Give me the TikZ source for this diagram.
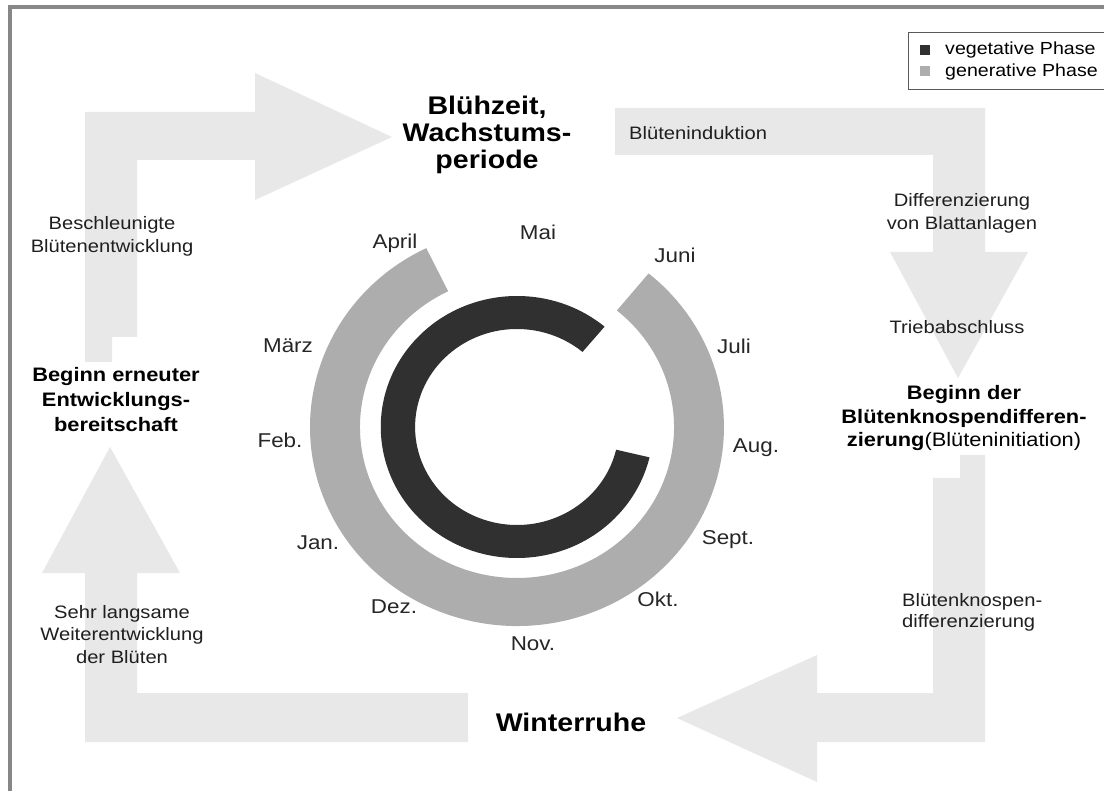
\documentclass[tikz,border=0pt]{standalone}
\usepackage{fontspec}
\setmainfont{Liberation Sans}[FakeStretch=1.12]
\definecolor{arrowgray}{HTML}{E8E8E8}
\definecolor{gengray}{HTML}{ADADAD}
\definecolor{veggray}{HTML}{303030}
\definecolor{framegray}{HTML}{878787}
\tikzset{
  bigarrow/.style={fill=arrowgray},
  smalltext/.style={font=\fontsize{18}{22.5}\selectfont, align=center, inner sep=0pt, text=black!88},
  monthtext/.style={font=\fontsize{20}{24}\selectfont, inner sep=0pt, text=black!85},
  bigtitle/.style={font=\bfseries\fontsize{25.5}{27}\selectfont, align=center, inner sep=0pt},
  midtitle/.style={font=\bfseries\fontsize{19.5}{24}\selectfont, align=center, inner sep=0pt},
  legendtext/.style={font=\fontsize{17.5}{20}\selectfont, inner sep=0pt, anchor=west},
}
\begin{document}
\begin{tikzpicture}[x=1pt,y=-1pt]
\useasboundingbox (0,0) rectangle (1104,791);
\fill[white] (0,0) rectangle (1104,791);
% frame
\draw[framegray, line width=4pt] (10,791) -- (10,7) -- (1104,7);

% legend
\draw[black!65, line width=0.8pt] (908,32) rectangle (1110,89);
\fill[veggray] (920,45) rectangle (930,55);
\fill[gengray] (920,66) rectangle (930,76);
\node[legendtext] (lveg) at (945,50) {vegetative Phase};
\node[legendtext] (lgen) at (945,72) {generative Phase};

% big arrows
\fill[bigarrow] (85,362) -- (85,112) -- (255,112) -- (255,73) -- (392,137) -- (255,200) -- (255,160) -- (137,160) -- (137,337) -- (112,337) -- (112,362) -- cycle;
\fill[bigarrow] (615,108) -- (985,108) -- (985,252) -- (1028,252) -- (958,378) -- (890,252) -- (933,252) -- (933,155) -- (615,155) -- cycle;
\fill[bigarrow] (960,455) -- (985,455) -- (985,742) -- (817,742) -- (817,782) -- (677,718) -- (817,655) -- (817,693) -- (933,693) -- (933,478) -- (960,478) -- cycle;
\fill[bigarrow] (468,693) -- (468,742) -- (85,742) -- (85,573) -- (42,573) -- (110,447) -- (180,573) -- (137,573) -- (137,693) -- cycle;

% rings
\begin{scope}[shift={(517,427)}, x=1.04pt, y=1pt]
  \fill[gengray] (116:199) arc[start angle=116, end angle=410.5, radius=199]
     -- (410.5:151) arc[start angle=410.5, end angle=116, radius=151] -- cycle;
  \fill[veggray] (50:131) arc[start angle=50, end angle=346.6, radius=131]
     -- (346.6:98) arc[start angle=346.6, end angle=50, radius=98] -- cycle;
\end{scope}

% months
\node[monthtext] (mai) at (538,232) {Mai};
\node[monthtext] (apr) at (395,243) {April};
\node[monthtext] (jun) at (675,255) {Juni};
\node[monthtext] (mar) at (288,346) {März};
\node[monthtext] (jul) at (734,346) {Juli};
\node[monthtext] (feb) at (280,440) {Feb.};
\node[monthtext] (aug) at (756,448) {Aug.};
\node[monthtext] (jan) at (318,543) {Jan.};
\node[monthtext] (sep) at (728,540) {Sept.};
\node[monthtext] (dez) at (394,607) {Dez.};
\node[monthtext] (okt) at (658,599) {Okt.};
\node[monthtext] (nov) at (533,644) {Nov.};

% titles
\node[bigtitle] (bluehzeit) at (487,135) {Blühzeit,\\Wachstums-\\periode};
\node[bigtitle] (winter) at (571,722) {Winterruhe};
\node[midtitle, font=\bfseries\fontsize{19.5}{25}\selectfont] (erneut) at (116,400) {Beginn erneuter\\Entwicklungs-\\bereitschaft};
\node[midtitle, font=\bfseries\fontsize{19.5}{23.5}\selectfont] (knospe) at (964,418.5) {Beginn der\\Blütenknospendifferen-\\zierung\mdseries(Blüteninitiation)};

% small labels
\node[smalltext, anchor=west] (induktion) at (629,133) {Blüteninduktion};
\node[smalltext, font=\fontsize{18}{23}\selectfont] (beschl) at (112,236.5) {Beschleunigte\\Blütenentwicklung};
\node[smalltext, font=\fontsize{18}{23}\selectfont] (diff) at (962,213.5) {Differenzierung\\von Blattanlagen};
\node[smalltext] (trieb) at (957,327) {Triebabschluss};
\node[smalltext, align=left, anchor=west, font=\fontsize{18}{21.5}\selectfont] (bkd) at (902,612.5) {Blütenknospen-\\differenzierung};
\node[smalltext, font=\fontsize{18}{22.5}\selectfont] (sehr) at (122,634.5) {Sehr langsame\\Weiterentwicklung\\der Blüten};
\end{tikzpicture}
\end{document}
